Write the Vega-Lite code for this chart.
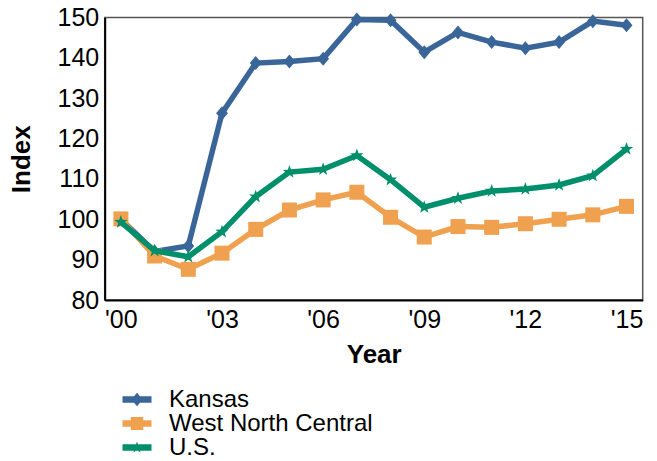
{
  "$schema": "https://vega.github.io/schema/vega-lite/v6.json",
  "width": 538,
  "height": 282.5,
  "autosize": {"type": "none"},
  "padding": {"left": 104.7, "top": 17.5, "right": 14.3, "bottom": 161},
  "config": {
    "font": "Liberation Sans",
    "view": {"stroke": "#555555", "strokeWidth": 1.5}
  },
  "data": {
    "values": [
      {"year": 2000, "series": "Kansas", "value": 100.0},
      {"year": 2001, "series": "Kansas", "value": 92.0},
      {"year": 2002, "series": "Kansas", "value": 93.4},
      {"year": 2003, "series": "Kansas", "value": 126.3},
      {"year": 2004, "series": "Kansas", "value": 138.7},
      {"year": 2005, "series": "Kansas", "value": 139.1},
      {"year": 2006, "series": "Kansas", "value": 139.8},
      {"year": 2007, "series": "Kansas", "value": 149.5},
      {"year": 2008, "series": "Kansas", "value": 149.3},
      {"year": 2009, "series": "Kansas", "value": 141.4},
      {"year": 2010, "series": "Kansas", "value": 146.3},
      {"year": 2011, "series": "Kansas", "value": 143.9},
      {"year": 2012, "series": "Kansas", "value": 142.4},
      {"year": 2013, "series": "Kansas", "value": 143.9},
      {"year": 2014, "series": "Kansas", "value": 149.1},
      {"year": 2015, "series": "Kansas", "value": 148.1},
      {"year": 2000, "series": "West North Central", "value": 100.1},
      {"year": 2001, "series": "West North Central", "value": 90.9},
      {"year": 2002, "series": "West North Central", "value": 87.6},
      {"year": 2003, "series": "West North Central", "value": 91.6},
      {"year": 2004, "series": "West North Central", "value": 97.5},
      {"year": 2005, "series": "West North Central", "value": 102.3},
      {"year": 2006, "series": "West North Central", "value": 104.8},
      {"year": 2007, "series": "West North Central", "value": 106.7},
      {"year": 2008, "series": "West North Central", "value": 100.5},
      {"year": 2009, "series": "West North Central", "value": 95.6},
      {"year": 2010, "series": "West North Central", "value": 98.2},
      {"year": 2011, "series": "West North Central", "value": 98.0},
      {"year": 2012, "series": "West North Central", "value": 98.9},
      {"year": 2013, "series": "West North Central", "value": 100.0},
      {"year": 2014, "series": "West North Central", "value": 101.1},
      {"year": 2015, "series": "West North Central", "value": 103.2},
      {"year": 2000, "series": "U.S.", "value": 99.3},
      {"year": 2001, "series": "U.S.", "value": 92.2},
      {"year": 2002, "series": "U.S.", "value": 90.7},
      {"year": 2003, "series": "U.S.", "value": 96.9},
      {"year": 2004, "series": "U.S.", "value": 105.6},
      {"year": 2005, "series": "U.S.", "value": 111.7},
      {"year": 2006, "series": "U.S.", "value": 112.4},
      {"year": 2007, "series": "U.S.", "value": 115.8},
      {"year": 2008, "series": "U.S.", "value": 109.8},
      {"year": 2009, "series": "U.S.", "value": 103.0},
      {"year": 2010, "series": "U.S.", "value": 105.2},
      {"year": 2011, "series": "U.S.", "value": 107.0},
      {"year": 2012, "series": "U.S.", "value": 107.5},
      {"year": 2013, "series": "U.S.", "value": 108.5},
      {"year": 2014, "series": "U.S.", "value": 110.8},
      {"year": 2015, "series": "U.S.", "value": 117.4}
    ]
  },
  "encoding": {
    "x": {
      "field": "year",
      "type": "quantitative",
      "scale": {"domain": [1999.52, 2015.48], "nice": false, "zero": false},
      "axis": {
        "values": [2000, 2003, 2006, 2009, 2012, 2015],
        "format": "d",
        "labelExpr": "\"'\" + slice(datum.label, 2)",
        "ticks": false,
        "grid": false,
        "domainColor": "#000000",
        "domainWidth": 2,
        "labelFontSize": 25,
        "labelColor": "#000000",
        "labelPadding": 7,
        "labelFlush": false,
        "title": "Year",
        "titleFontSize": 26,
        "titleFontWeight": "bold",
        "titleColor": "#000000",
        "titlePadding": 9
      }
    },
    "y": {
      "field": "value",
      "type": "quantitative",
      "scale": {"domain": [80, 150], "nice": false, "zero": false},
      "axis": {
        "values": [80, 90, 100, 110, 120, 130, 140, 150],
        "ticks": false,
        "grid": false,
        "domainColor": "#000000",
        "domainWidth": 2,
        "labelFontSize": 25,
        "labelColor": "#000000",
        "labelPadding": 6,
        "labelFlush": false,
        "title": "Index",
        "titleFontSize": 26,
        "titleFontWeight": "bold",
        "titleColor": "#000000",
        "titlePadding": 22
      }
    }
  },
  "layer": [
    {
      "transform": [{"filter": "datum.series === 'Kansas'"}],
      "mark": {"type": "line", "color": "#3a6599", "strokeWidth": 5.5},
      "encoding": {}
    },
    {
      "transform": [{"filter": "datum.series === 'Kansas'"}],
      "mark": {"type": "point", "filled": true, "opacity": 1, "color": "#3a6599", "shape": "M0,-1L0.85,0L0,1L-0.85,0Z", "size": 196}
    },
    {
      "transform": [{"filter": "datum.series === 'West North Central'"}],
      "mark": {"type": "line", "color": "#f0a150", "strokeWidth": 5.5},
      "encoding": {}
    },
    {
      "transform": [{"filter": "datum.series === 'West North Central'"}],
      "mark": {"type": "point", "filled": true, "opacity": 1, "color": "#f0a150", "shape": "square", "size": 225}
    },
    {
      "transform": [{"filter": "datum.series === 'U.S.'"}],
      "mark": {"type": "line", "color": "#008f6b", "strokeWidth": 5.5},
      "encoding": {}
    },
    {
      "transform": [{"filter": "datum.series === 'U.S.'"}],
      "mark": {"type": "point", "filled": true, "opacity": 1, "color": "#008f6b", "shape": "M0,-1L0.235,-0.324L0.951,-0.309L0.38,0.124L0.588,0.809L0,0.4L-0.588,0.809L-0.38,0.124L-0.951,-0.309L-0.235,-0.324Z", "size": 196}
    },
    {
      "mark": {"type": "point", "filled": true, "opacity": 0},
      "encoding": {
        "color": {
          "field": "series",
          "type": "nominal",
          "scale": {"domain": ["Kansas", "West North Central", "U.S."], "range": ["#3a6599", "#f0a150", "#008f6b"]},
          "legend": {
            "orient": "none",
            "legendX": 20.3,
            "legendY": 370,
            "title": null,
            "direction": "vertical",
            "labelFontSize": 24,
            "labelColor": "#000000",
            "labelOffset": 20,
            "labelLimit": 500,
            "rowPadding": 0,
            "symbolSize": 400,
            "symbolOpacity": 1,
            "symbolStrokeWidth": 0
          }
        },
        "shape": {
          "field": "series",
          "type": "nominal",
          "scale": {
            "domain": ["Kansas", "West North Central", "U.S."],
            "range": [
              "M-1.45,-0.33L1.45,-0.33L1.45,0.33L-1.45,0.33Z M0,-0.68L0.57,0L0,0.68L-0.57,0Z",
              "M-1.45,-0.33L1.45,-0.33L1.45,0.33L-1.45,0.33Z M-0.62,-0.65L0.62,-0.65L0.62,0.65L-0.62,0.65Z",
              "M-1.45,-0.33L1.45,-0.33L1.45,0.33L-1.45,0.33Z M0,-0.61L0.145,-0.2L0.58,-0.19L0.23,0.07L0.36,0.49L0,0.25L-0.36,0.49L-0.23,0.07L-0.58,-0.19L-0.145,-0.2Z"
            ]
          },
          "legend": {
            "orient": "none",
            "legendX": 20.3,
            "legendY": 370,
            "title": null,
            "direction": "vertical",
            "labelFontSize": 24,
            "labelColor": "#000000",
            "labelOffset": 20,
            "labelLimit": 500,
            "rowPadding": 0,
            "symbolSize": 400,
            "symbolOpacity": 1,
            "symbolStrokeWidth": 0
          }
        }
      }
    }
  ]
}
